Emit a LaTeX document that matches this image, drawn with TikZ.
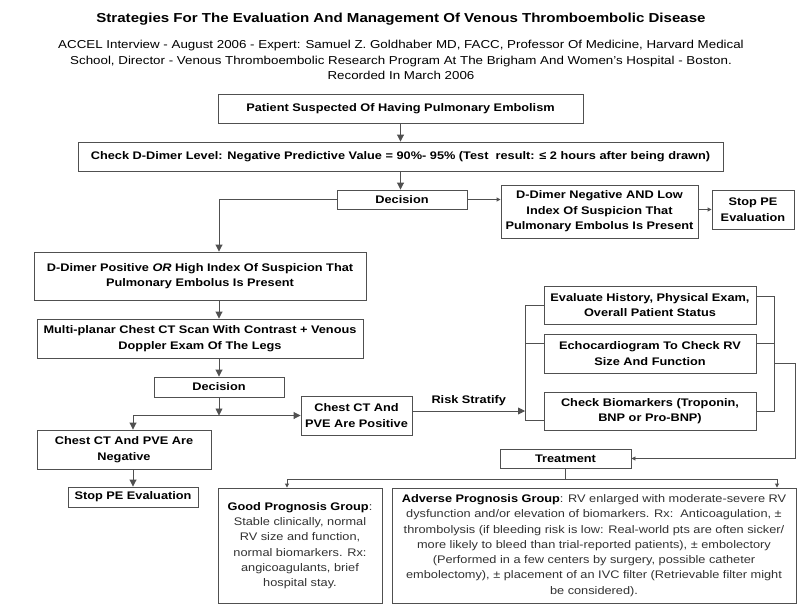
\documentclass[tikz,border=0pt]{standalone}
\usepackage{fontspec}
\setmainfont[FakeStretch=1.16]{Liberation Sans}
\usetikzlibrary{arrows.meta}
\definecolor{linegray}{RGB}{80,80,80}
\definecolor{bodygray}{RGB}{50,50,50}

\begin{document}
\begin{tikzpicture}[x=1pt,y=-1pt,
  box/.style={draw=linegray,line width=0.9pt,fill=white,align=center,inner sep=0pt,font=\bfseries\fontsize{11}{15.5}\selectfont},
  prog/.style={box,font=\fontsize{11}{15.3}\selectfont,text=bodygray},
  link/.style={draw=linegray,line width=0.9pt},
  arr/.style={link,-{Triangle[length=7pt,width=7pt]}},
  tip/.style={link,-{Triangle[length=4pt,width=4pt]}}]
  \useasboundingbox[fill=white] (0,0) rectangle (803,610);
  % heading
  \node[font=\bfseries\fontsize{13}{15}\selectfont] (title) at (401,19) {Strategies For The Evaluation And Management Of Venous Thromboembolic Disease};
  \node[align=center,font=\fontsize{11.5}{15.5}\selectfont] (sub) at (401,60) {ACCEL Interview - August 2006 - Expert: Samuel Z. Goldhaber MD, FACC, Professor Of Medicine, Harvard Medical\\School, Director - Venous Thromboembolic Research Program At The Brigham And Women's Hospital - Boston.\\Recorded In March 2006};
  % main column
  \node[box,minimum width=365,minimum height=29] (pat) at (400.5,108.5) {Patient Suspected Of Having Pulmonary Embolism};
  \node[box,minimum width=645,minimum height=29] (ddim) at (400.5,156.5) {Check D-Dimer Level: Negative Predictive Value = 90\%- 95\% (Test\ \ result: ≤ 2 hours after being drawn)};
  \node[box,minimum width=130,minimum height=19] (dec1) at (402,199.5) {Decision};
  \node[box,minimum width=197,minimum height=53] (dneg) at (599.5,211.5) {D-Dimer Negative AND Low\\Index Of Suspicion That\\Pulmonary Embolus Is Present};
  \node[box,minimum width=82,minimum height=39] (stopa) at (753,209.5) {Stop PE\\Evaluation};
  \node[box,minimum width=332,minimum height=48] (dpos) at (200,276) {D-Dimer Positive \textit{OR} High Index Of Suspicion That\\Pulmonary Embolus Is Present};
  \node[box,minimum width=326,minimum height=39] (multi) at (200,338.5) {Multi-planar Chest CT Scan With Contrast + Venous\\Doppler Exam Of The Legs};
  \node[box,minimum width=130,minimum height=20] (dec2) at (219,387) {Decision};
  \node[box,minimum width=174,minimum height=39] (neg) at (124,449.5) {Chest CT And PVE Are\\Negative};
  \node[box,minimum width=130,minimum height=20] (stopb) at (133,497) {Stop PE Evaluation};
  \node[box,minimum width=111,minimum height=39] (cpos) at (356.5,415.5) {Chest CT And\\PVE Are Positive};
  % risk stratification
  \node[box,minimum width=212,minimum height=38] (hist) at (650,305) {Evaluate History, Physical Exam,\\Overall Patient Status};
  \node[box,minimum width=212,minimum height=39] (echo) at (650,353.5) {Echocardiogram To Check RV\\Size And Function};
  \node[box,minimum width=212,minimum height=38] (bio) at (650,411) {Check Biomarkers (Troponin,\\BNP or Pro-BNP)};
  \node[box,minimum width=131,minimum height=19] (treat) at (565.5,458.5) {Treatment};
  \node[prog,minimum width=164,minimum height=115] (good) at (300,545.5) {\textcolor{black}{\bfseries Good Prognosis Group}:\\Stable clinically, normal\\RV size and function,\\normal biomarkers. Rx:\\angicoagulants, brief\\hospital stay.};
  \node[prog,minimum width=404,minimum height=115] (adv) at (594,545.5) {\textcolor{black}{\bfseries Adverse Prognosis Group}: RV enlarged with moderate-severe RV\\dysfunction and/or elevation of biomarkers. Rx:\ \ Anticoagulation, ±\\thrombolysis (if bleeding risk is low: Real-world pts are often sicker/\\more likely to bleed than trial-reported patients), ± embolectory\\(Performed in a few centers by surgery, possible catheter\\embolectomy), ± placement of an IVC filter (Retrievable filter might\\be considered).};
  % joints
  \coordinate (spine) at (219,0);
  \coordinate (split) at (219,415.5);
  \coordinate (lb) at (525,411);
  \coordinate (lt) at (525,305);
  \coordinate (lm) at (525,343);
  \coordinate (lbot) at (525,420);
  \coordinate (rt) at (774,296);
  \coordinate (rm) at (774,343);
  \coordinate (rb) at (774,411);
  \coordinate (rj) at (774,363);
  \coordinate (rc) at (795,363);
  \coordinate (tsplit) at (565,479);
  \coordinate (gx) at (287,479);
  \coordinate (ax) at (777,479);
  % connectors
  \draw[arr] (pat) -- (ddim);
  \draw[arr] (ddim.south) -- (ddim.south |- dec1.north);
  \draw[arr] (dec1.west) -| (dpos.north -| spine);
  \draw[tip] (dec1.east) -- (dec1.east -| dneg.west);
  \draw[tip] (stopa.west -| dneg.east) -- (stopa.west);
  \draw[arr] (dpos.south -| spine) -- (multi.north -| spine);
  \draw[arr] (multi.south -| dec2.north) -- (dec2.north);
  \draw[arr] (dec2.south) -- (split);
  \draw[arr] (split) -| (neg.north -| stopb.north);
  \draw[arr] (split) -- (split -| cpos.west);
  \draw[arr] (neg.south -| stopb.north) -- (stopb.north);
  \draw[arr] (cpos.east |- lb) -- (lb) node[midway,above=1pt,font=\bfseries\fontsize{11}{13}\selectfont] {Risk Stratify};
  \draw[link] (hist.west |- lt) -- (lt) -- (lbot) -- (lbot -| bio.west);
  \draw[link] (lm) -- (lm -| echo.west);
  \draw[link] (rt -| hist.east) -- (rt) -- (rb) -- (rb -| bio.east);
  \draw[link] (rm -| echo.east) -- (rm);
  \draw[tip] (rj) -- (rc) |- (treat.east);
  \draw[link] (treat.south -| tsplit) -- (tsplit);
  \draw[tip] (tsplit) -- (gx) -- (gx |- good.north);
  \draw[tip] (tsplit) -- (ax) -- (ax |- adv.north);
\end{tikzpicture}
\end{document}
